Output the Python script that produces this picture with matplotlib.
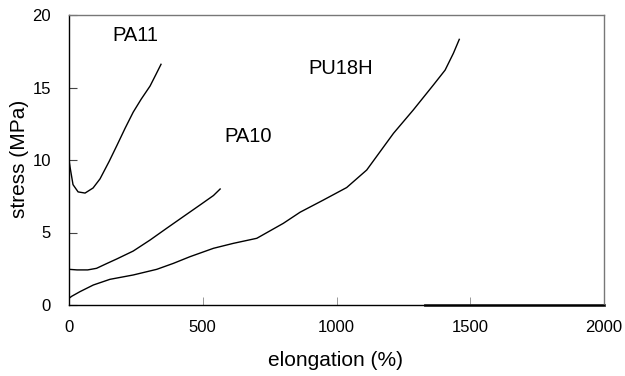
import numpy as np
import matplotlib.pyplot as plt

plt.rcParams['font.family'] = ['Liberation Sans', 'DejaVu Sans']

# stress-strain curves (elongation %, stress MPa)
pa11_x = [0, 4, 15, 34, 60, 90, 116, 150, 179, 210, 240, 270, 303, 325, 344]
pa11_y = [10.0, 9.5, 8.3, 7.8, 7.72, 8.07, 8.7, 9.9, 11.0, 12.2, 13.3, 14.2, 15.1, 15.9, 16.6]

pa10_x = [0, 30, 70, 103, 140, 178, 240, 303, 365, 427, 490, 540, 565]
pa10_y = [2.46, 2.42, 2.42, 2.53, 2.85, 3.17, 3.72, 4.48, 5.29, 6.09, 6.9, 7.55, 8.0]

pu_x = [0, 10, 41, 91, 153, 240, 328, 390, 452, 540, 614, 702, 801, 864, 951,
        1038, 1113, 1213, 1287, 1362, 1406, 1437, 1459]
pu_y = [0.46, 0.6, 0.92, 1.38, 1.77, 2.07, 2.46, 2.87, 3.33, 3.91, 4.25, 4.6, 5.63, 6.4,
        7.24, 8.1, 9.31, 11.84, 13.45, 15.17, 16.2, 17.36, 18.32]

base_x = [1330, 2000]
base_y = [0, 0]

labels = ['PA11', 'PA10', 'PU18H']
label_x = [247, 669, 1017]
label_y = [18.6, 11.6, 16.3]

fig = plt.figure(figsize=(6.25, 3.76), dpi=100)
ax = fig.add_axes([69/625, 1-305/376, 535/625, 290/376])

ax.plot(pa11_x, pa11_y, color='black', lw=1)
ax.plot(pa10_x, pa10_y, color='black', lw=1)
ax.plot(pu_x, pu_y, color='black', lw=1)
ax.plot(base_x, base_y, color='#333333', lw=2, clip_on=False)

for t, x, y in zip(labels, label_x, label_y):
    ax.text(x, y, t, fontsize=14.5, ha='center', va='center')

ax.set_xlim(0, 2000)
ax.set_ylim(0, 20)
ax.set_xticks([0, 500, 1000, 1500, 2000])
ax.set_yticks([0, 5, 10, 15, 20])
ax.tick_params(axis='x', direction='in', length=6, width=0.6, color='#888888',
               labelsize=12, pad=10.5)
ax.tick_params(axis='y', direction='in', length=6, width=0.8, color='#444444',
               labelsize=12, pad=13)

ax.spines['left'].set_color('black')
ax.spines['bottom'].set_color('black')
ax.spines['top'].set_color('#777777')
ax.spines['right'].set_color('#777777')
for s in ax.spines.values():
    s.set_linewidth(1.0)

ax.set_xlabel('elongation (%)', fontsize=15)
ax.set_ylabel('stress (MPa)', fontsize=15)
ax.xaxis.label.set_va('center')
ax.yaxis.label.set_va('center')
ax.xaxis.set_label_coords(336/625, 1-360/376, transform=fig.transFigure)
ax.yaxis.set_label_coords(20/625, 1-159/376, transform=fig.transFigure)

fig.savefig('out.png', dpi=100)
